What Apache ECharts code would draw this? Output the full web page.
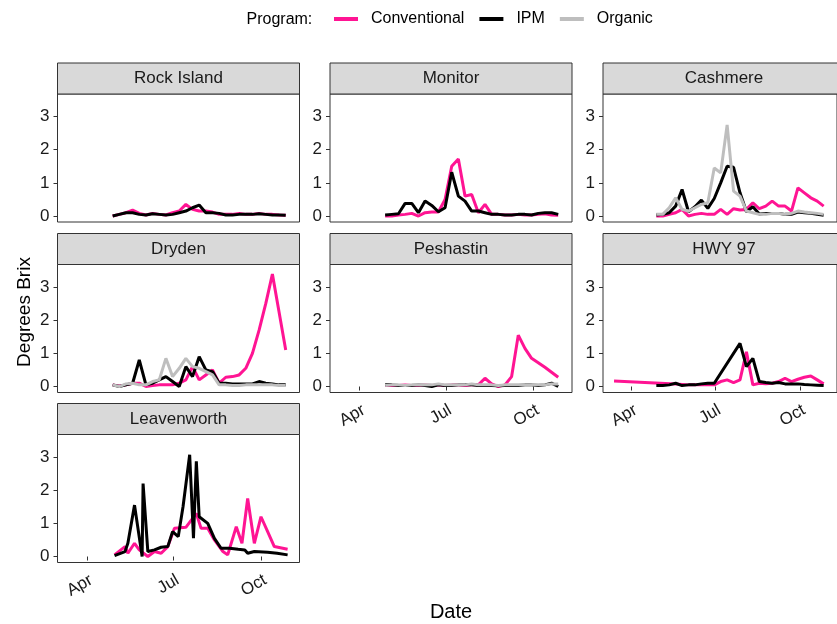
<!DOCTYPE html>
<html>
<head>
<meta charset="utf-8">
<script src="https://cdn.jsdelivr.net/npm/echarts@6/dist/echarts.min.js"></script>
<style>
	html, body { margin: 0; padding: 0; background: #fff; }
	#main { width: 837px; height: 624px; }
</style>
</head>
<body>
<div id="main"></div>
<script>
// weekly sampling dates shared by most sites
var weekDates = ['2018-04-28', '2018-05-05', '2018-05-12', '2018-05-19', '2018-05-26', '2018-06-02', '2018-06-09',
	'2018-06-16', '2018-06-23', '2018-06-30', '2018-07-07', '2018-07-14', '2018-07-21', '2018-07-28', '2018-08-04',
	'2018-08-11', '2018-08-18', '2018-08-25', '2018-09-01', '2018-09-08', '2018-09-15', '2018-09-22', '2018-09-29',
	'2018-10-06', '2018-10-13', '2018-10-20', '2018-10-27'];

// Rock Island
var rockConv = [0.0, 0.05, 0.1, 0.18, 0.08, 0.03, 0.08, 0.05, 0.03, 0.1, 0.15, 0.35, 0.2, 0.15, 0.15, 0.12, 0.05, 0.05, 0.05, 0.08, 0.05, 0.05, 0.08, 0.05, 0.05, 0.03, 0.02];
var rockIPM = [0.0, 0.05, 0.1, 0.1, 0.05, 0.03, 0.07, 0.05, 0.03, 0.05, 0.1, 0.15, 0.25, 0.33, 0.1, 0.1, 0.08, 0.03, 0.03, 0.05, 0.05, 0.05, 0.07, 0.05, 0.03, 0.03, 0.02];
// Monitor
var monConv = [0.0, 0.0, 0.03, 0.05, 0.08, 0.0, 0.1, 0.12, 0.12, 0.5, 1.5, 1.72, 0.6, 0.65, 0.1, 0.35, 0.05, 0.05, 0.03, 0.03, 0.05, 0.03, 0.03, 0.05, 0.07, 0.03, 0.02];
var monIPM = [0.03, 0.05, 0.07, 0.38, 0.38, 0.1, 0.45, 0.32, 0.13, 0.25, 1.32, 0.6, 0.45, 0.15, 0.15, 0.1, 0.05, 0.05, 0.03, 0.03, 0.05, 0.05, 0.03, 0.08, 0.1, 0.1, 0.05];
// Cashmere
var cashConv = [0.0, 0.0, 0.05, 0.1, 0.2, 0.0, 0.05, 0.08, 0.05, 0.05, 0.2, 0.05, 0.22, 0.18, 0.2, 0.4, 0.22, 0.3, 0.45, 0.3, 0.3, 0.15, 0.85, 0.7, 0.55, 0.45, 0.3];
var cashIPM = [0.03, 0.05, 0.1, 0.3, 0.8, 0.13, 0.28, 0.48, 0.23, 0.53, 1.0, 1.5, 1.47, 0.7, 0.13, 0.28, 0.06, 0.08, 0.08, 0.08, 0.05, 0.05, 0.12, 0.1, 0.08, 0.05, 0.02];
var cashOrg = [0.05, 0.05, 0.25, 0.55, 0.2, 0.15, 0.25, 0.35, 0.4, 1.45, 1.3, 2.75, 0.75, 0.6, 0.15, 0.1, 0.05, 0.05, 0.08, 0.08, 0.05, 0.08, 0.15, 0.12, 0.1, 0.08, 0.05];
// Dryden
var dryConv = [0.05, 0.02, 0.05, 0.1, 0.1, 0.0, 0.03, 0.05, 0.05, 0.05, 0.1, 0.2, 0.6, 0.2, 0.35, 0.5, 0.1, 0.28, 0.3, 0.35, 0.55, 1.0, 1.7, 2.5, 3.39, 2.25, 1.1];
var dryIPM = [0.05, 0.0, 0.05, 0.1, 0.8, 0.05, 0.1, 0.2, 0.3, 0.15, 0.0, 0.6, 0.3, 0.9, 0.5, 0.45, 0.1, 0.1, 0.08, 0.08, 0.08, 0.08, 0.15, 0.1, 0.08, 0.05, 0.05];
var dryOrg = [0.05, 0.0, 0.08, 0.1, 0.05, 0.05, 0.15, 0.2, 0.85, 0.3, 0.55, 0.85, 0.6, 0.55, 0.45, 0.35, 0.05, 0.05, 0.03, 0.03, 0.05, 0.05, 0.05, 0.05, 0.05, 0.03, 0.03];
// Peshastin
var peshConv = [0.03, 0.03, 0.03, 0.05, 0.03, 0.03, 0.05, 0.03, 0.05, 0.03, 0.05, 0.05, 0.03, 0.05, 0.05, 0.25, 0.08, 0.0, 0.05, 0.3, 1.55, 1.15, 0.85, 0.72, 0.58, 0.43, 0.28];
var peshIPM = [0.05, 0.05, 0.03, 0.03, 0.03, 0.05, 0.03, 0.0, 0.05, 0.03, 0.03, 0.05, 0.05, 0.05, 0.03, 0.03, 0.03, 0.02, 0.03, 0.03, 0.03, 0.05, 0.05, 0.03, 0.05, 0.1, 0.0];
var peshOrg = [0.03, 0.05, 0.05, 0.03, 0.05, 0.05, 0.05, 0.05, 0.08, 0.05, 0.05, 0.05, 0.05, 0.08, 0.05, 0.05, 0.05, 0.03, 0.05, 0.05, 0.05, 0.05, 0.05, 0.05, 0.05, 0.08, 0.08];
// HWY 97 (conventional has one early March sample)
var hwyConvDates = ['2018-03-13'].concat(weekDates);
var hwyConv = [0.17, null, null, null, 0.08, null, 0.05, null, 0.05, 0.05, 0.05, 0.15, 0.2, 0.12, 0.2, 1.05, 0.05, 0.1, 0.08, 0.1, 0.15, 0.25, 0.15, 0.22, 0.28, 0.32, 0.2, 0.08];
var hwyIPM = [0.03, 0.03, 0.05, 0.1, 0.03, 0.05, 0.05, 0.08, 0.1, 0.1, null, null, null, 1.3, 0.6, 0.85, 0.15, 0.12, 0.1, 0.12, 0.08, 0.08, 0.08, 0.06, 0.05, 0.04, 0.03];
// Leavenworth (irregular sampling)
var leavConvDates = ['2018-04-30', '2018-05-11', '2018-05-14', '2018-05-21', '2018-05-26', '2018-06-04', '2018-06-11',
	'2018-06-18', '2018-06-25', '2018-07-02', '2018-07-14', '2018-07-25', '2018-07-30', '2018-08-06', '2018-08-13',
	'2018-08-22', '2018-08-27', '2018-09-05', '2018-09-11', '2018-09-17', '2018-09-24', '2018-10-01', '2018-10-08',
	'2018-10-15', '2018-10-29'];
var leavConv = [0.05, 0.3, 0.1, 0.4, 0.2, 0.0, 0.15, 0.1, 0.3, 0.85, 0.88, 1.3, 0.85, 0.85, 0.5, 0.15, 0.05, 0.9, 0.4, 1.75, 0.4, 1.2, 0.75, 0.3, 0.22];
var leavIPMDates = ['2018-04-30', '2018-05-11', '2018-05-14', '2018-05-21', '2018-05-29', '2018-05-30', '2018-06-04',
	'2018-06-11', '2018-06-18', '2018-06-25', '2018-06-30', '2018-07-06', '2018-07-11', '2018-07-18', '2018-07-22',
	'2018-07-25', '2018-07-28', '2018-08-06', '2018-08-13', '2018-08-20', '2018-08-29', '2018-09-07', '2018-09-14',
	'2018-09-17', '2018-09-24', '2018-10-08', '2018-10-18', '2018-10-29'];
var leavIPM = [0.03, 0.15, 0.4, 1.55, 0.0, 2.2, 0.15, 0.2, 0.28, 0.3, 0.75, 0.6, 1.5, 3.07, 0.55, 2.87, 1.2, 1.0, 0.55, 0.25, 0.25, 0.22, 0.2, 0.1, 0.15, 0.13, 0.1, 0.05];

var programs = ['Conventional', 'IPM', 'Organic'];
var programColors = {Conventional: '#ff1493', IPM: '#000000', Organic: '#bebebe'};
var yTicks = [0, 1, 2, 3];
var monthNames = ['Jan', 'Feb', 'Mar', 'Apr', 'May', 'Jun', 'Jul', 'Aug', 'Sep', 'Oct', 'Nov', 'Dec'];
var xTicks = [Date.UTC(2018, 3, 1), Date.UTC(2018, 6, 1), Date.UTC(2018, 9, 1)];
var xMin = Date.UTC(2018, 2, 1), xMax = Date.UTC(2018, 10, 10, 12);

// facet panels: name, position in the grid, whether the x labels show, and its lines
var panels = [
	{name: 'Rock Island', col: 0, row: 0, xlab: false, lines: [['Conventional', weekDates, rockConv], ['IPM', weekDates, rockIPM]]},
	{name: 'Monitor', col: 1, row: 0, xlab: false, lines: [['Conventional', weekDates, monConv], ['IPM', weekDates, monIPM]]},
	{name: 'Cashmere', col: 2, row: 0, xlab: false, lines: [['Conventional', weekDates, cashConv], ['IPM', weekDates, cashIPM], ['Organic', weekDates, cashOrg]]},
	{name: 'Dryden', col: 0, row: 1, xlab: false, lines: [['Conventional', weekDates, dryConv], ['IPM', weekDates, dryIPM], ['Organic', weekDates, dryOrg]]},
	{name: 'Peshastin', col: 1, row: 1, xlab: true, lines: [['Conventional', weekDates, peshConv], ['IPM', weekDates, peshIPM], ['Organic', weekDates, peshOrg]]},
	{name: 'HWY 97', col: 2, row: 1, xlab: true, lines: [['Conventional', hwyConvDates, hwyConv], ['IPM', weekDates, hwyIPM]]},
	{name: 'Leavenworth', col: 0, row: 2, xlab: true, lines: [['Conventional', leavConvDates, leavConv], ['IPM', leavIPMDates, leavIPM]]}
];

// layout of the facet grid
var colLeft = [57.5, 330, 603];
var rowTop = [94, 264.5, 434.5];
var plotW = 242, plotH = 128, stripH = 31;
var FONT = 'Liberation Sans, Arial, Helvetica, sans-serif';

var myChart = echarts.init(document.getElementById('main'));

var grids = [], xAxes = [], yAxes = [], series = [], graphics = [];

panels.forEach(function(p, i) {
	var left = colLeft[p.col], top = rowTop[p.row];
	grids.push({
		left: left, top: top, width: plotW, height: plotH,
		show: true, backgroundColor: '#fff', borderColor: '#333', borderWidth: 1
	});
	xAxes.push({
		type: 'value', gridIndex: i, min: xMin, max: xMax,
		axisLine: {show: false},
		splitLine: {show: false},
		axisTick: {show: p.xlab, customValues: xTicks, length: 4, lineStyle: {color: '#333'}},
		axisLabel: {
			show: p.xlab, customValues: xTicks, rotate: 30, margin: 9,
			align: 'right', verticalAlign: 'top',
			fontSize: 17, color: '#1a1a1a', fontFamily: FONT,
			formatter: function(v) {
				return monthNames[new Date(v).getUTCMonth()];
			}
		}
	});
	yAxes.push({
		type: 'value', gridIndex: i, min: -0.18, max: 3.68,
		axisLine: {show: false},
		splitLine: {show: false},
		axisTick: {show: true, customValues: yTicks, length: 4, lineStyle: {color: '#333'}},
		axisLabel: {customValues: yTicks, margin: 8, fontSize: 17, color: '#1a1a1a', fontFamily: FONT}
	});
	// strip on top of each panel
	graphics.push({
		type: 'rect',
		shape: {x: left, y: top - stripH, width: plotW, height: stripH},
		style: {fill: '#d9d9d9', stroke: '#333', lineWidth: 1}
	});
	graphics.push({
		type: 'text', x: left + plotW / 2, y: top - stripH / 2,
		style: {text: p.name, fill: '#1a1a1a', font: '17px ' + FONT, textAlign: 'center', textVerticalAlign: 'middle'}
	});
	p.lines.forEach(function(l) {
		series.push({
			name: l[0], type: 'line', xAxisIndex: i, yAxisIndex: i,
			showSymbol: false, connectNulls: true,
			z: 2 + programs.indexOf(l[0]),
			color: programColors[l[0]],
			lineStyle: {width: 3, color: programColors[l[0]]},
			data: l[1].map(function(d, j) {
				return [new Date(d + 'T00:00:00Z').getTime(), l[2][j]];
			})
		});
	});
});

// axis titles and legend caption
graphics.push({
	type: 'text', x: 25, y: 312, rotation: Math.PI / 2,
	style: {text: 'Degrees Brix', fill: '#000', font: '19px ' + FONT, textAlign: 'center', textVerticalAlign: 'middle'}
});
graphics.push({
	type: 'text', x: 451, y: 612,
	style: {text: 'Date', fill: '#000', font: '20px ' + FONT, textAlign: 'center', textVerticalAlign: 'middle'}
});
graphics.push({
	type: 'text', x: 246.5, y: 19.5,
	style: {text: 'Program:', fill: '#000', font: '16px ' + FONT, textAlign: 'left', textVerticalAlign: 'middle'}
});

var option = {
	backgroundColor: '#fff',
	animation: false,
	textStyle: {fontFamily: FONT},
	legend: {
		data: programs, left: 334, top: 11, icon: 'rect', padding: 0,
		itemWidth: 24, itemHeight: 4, itemGap: 15,
		textStyle: {fontSize: 16, color: '#000', padding: [0, 0, 0, 8], fontFamily: FONT}
	},
	grid: grids,
	xAxis: xAxes,
	yAxis: yAxes,
	series: series,
	graphic: graphics
};
myChart.setOption(option);
</script>
</body>
</html>
